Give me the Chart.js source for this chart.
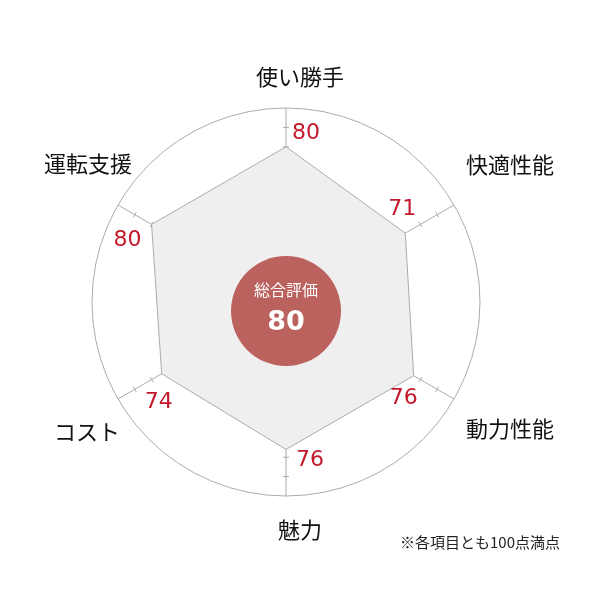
<!DOCTYPE html>
<html>
<head>
<meta charset="utf-8">
<script src="https://cdn.jsdelivr.net/npm/chart.js@4.4.1/dist/chart.umd.min.js"></script>
<style>
  html, body { margin: 0; padding: 0; background: #fff; }
  canvas { display: block; }
</style>
</head>
<body>
<canvas id="radarChart" width="600" height="600"></canvas>
<script>
// chart data
const categories = ['使い勝手', '快適性能', '動力性能', '魅力', 'コスト', '運転支援'];
const scores = [80, 71, 76, 76, 74, 80];
const tickValues = [10, 20, 30, 40, 50, 60, 70, 80, 90];
const totalLabel = '総合評価';
const totalScore = 80;
const noteText = '※各項目とも100点満点';

const LINE_GRAY = '#ababab';
const SCORE_RED = '#c4182c';
const JP_FONT = '"Noto Sans CJK JP", "Noto Sans", sans-serif';
const NUM_FONT = '"DejaVu Sans", "Noto Sans", sans-serif';

// label nudges (px) from the library's own point positions
const catOffsets = [[14, -31], [56, -40], [56, 30], [14, 34], [-31, 33], [-30, -41]];
const scoreOffsets = [[20, -14], [-3, -24], [-10, 23], [24, 11], [-3, 29], [-24, 16]];

const axisTicks = {
  id: 'axisTicks',
  beforeDatasetsDraw(chart) {
    const scale = chart.scales.r;
    const ctx = chart.ctx;
    ctx.save();
    ctx.strokeStyle = LINE_GRAY;
    ctx.lineWidth = 1;
    categories.forEach(function(_, i) {
      const a = scale.getPointPositionForValue(i, 0);
      const b = scale.getPointPositionForValue(i, 100);
      const len = Math.hypot(b.x - a.x, b.y - a.y);
      const px = -(b.y - a.y) / len;
      const py = (b.x - a.x) / len;
      tickValues.forEach(function(v) {
        const p = scale.getPointPositionForValue(i, v);
        ctx.beginPath();
        ctx.moveTo(p.x - px * 3, p.y - py * 3);
        ctx.lineTo(p.x + px * 3, p.y + py * 3);
        ctx.stroke();
      });
    });
    ctx.restore();
  }
};

const overlayText = {
  id: 'overlayText',
  afterDatasetsDraw(chart) {
    const scale = chart.scales.r;
    const ctx = chart.ctx;
    ctx.save();
    ctx.textAlign = 'center';
    ctx.textBaseline = 'middle';

    // category labels
    ctx.fillStyle = '#111';
    ctx.font = '22px ' + JP_FONT;
    categories.forEach(function(label, i) {
      const p = scale.getPointPositionForValue(i, 100);
      ctx.fillText(label, p.x + catOffsets[i][0], p.y + catOffsets[i][1]);
    });

    // score labels
    ctx.fillStyle = SCORE_RED;
    ctx.font = '22px ' + NUM_FONT;
    scores.forEach(function(v, i) {
      const p = scale.getPointPositionForValue(i, v);
      ctx.fillText(String(v), p.x + scoreOffsets[i][0], p.y + scoreOffsets[i][1]);
    });

    // total badge
    const cx = scale.xCenter;
    const cy = scale.yCenter + 9;
    ctx.fillStyle = '#bb625e';
    ctx.beginPath();
    ctx.arc(cx, cy, 55, 0, Math.PI * 2);
    ctx.fill();
    ctx.fillStyle = '#ffffff';
    ctx.font = '16px ' + JP_FONT;
    ctx.fillText(totalLabel, cx, cy - 21);
    ctx.font = 'bold 27px ' + NUM_FONT;
    ctx.fillText(String(totalScore), cx, cy + 12);

    // footnote
    ctx.fillStyle = '#222';
    ctx.font = '15px ' + JP_FONT;
    ctx.textAlign = 'right';
    ctx.fillText(noteText, 560, 542);
    ctx.restore();
  }
};

const ctx = document.getElementById('radarChart').getContext('2d');
new Chart(ctx, {
  type: 'radar',
  data: {
    labels: categories,
    datasets: [{
      data: scores,
      backgroundColor: '#efefef',
      borderColor: LINE_GRAY,
      borderWidth: 1,
      pointRadius: 0,
      fill: true
    }]
  },
  options: {
    responsive: false,
    animation: false,
    layout: {
      padding: { left: 92, right: 119, top: 108, bottom: 104 }
    },
    plugins: {
      legend: { display: false },
      tooltip: { enabled: false }
    },
    scales: {
      r: {
        min: 0,
        max: 100,
        ticks: { display: false, stepSize: 10 },
        grid: {
          circular: true,
          color: function(c) { return c.tick && c.tick.value === 100 ? LINE_GRAY : 'transparent'; }
        },
        angleLines: { color: LINE_GRAY, lineWidth: 1 },
        pointLabels: { display: false }
      }
    }
  },
  plugins: [axisTicks, overlayText]
});
</script>
</body>
</html>
